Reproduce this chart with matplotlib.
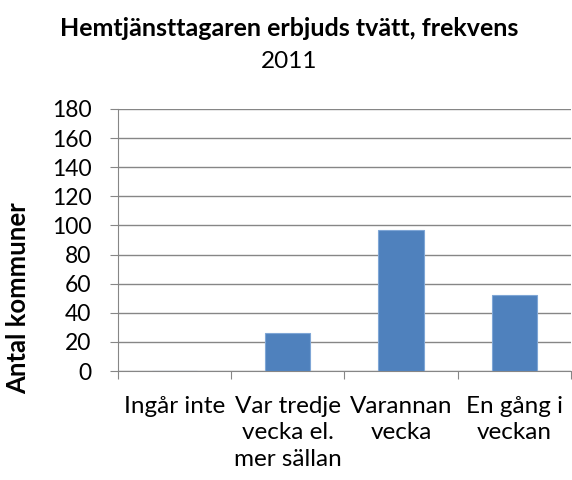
import matplotlib
matplotlib.use("Agg")
import matplotlib.pyplot as plt

categories = ["Ingår inte", "Var tredje\nvecka el.\nmer sällan", "Varannan\nvecka", "En gång i\nveckan"]
values = [0, 26, 97, 52]
yticks = [0, 20, 40, 60, 80, 100, 120, 140, 160, 180]

plt.rcParams['font.family'] = ['Lato', 'DejaVu Sans']

fig = plt.figure(figsize=(5.72, 4.8), dpi=100)
ax = fig.add_axes([0.206, 0.227, 0.792, 0.546])

x = list(range(len(categories)))
ax.bar(x, values, width=0.4, color="#4F81BD", edgecolor="#7FA6D6", linewidth=0.8, zorder=3)

ax.set_xlim(-0.5, len(categories) - 0.5)
ax.set_ylim(0, 180)
ax.set_yticks(yticks)
ax.set_yticklabels([str(v) for v in yticks], fontsize=16.5)
ax.yaxis.grid(True, color="#868686", linewidth=1.0, zorder=0)
ax.tick_params(axis="y", length=6, color="#868686", pad=13, direction="out")

# category ticks sit between the bars, labels under the bars
ax.set_xticks([i - 0.5 for i in range(len(categories) + 1)])
ax.set_xticklabels([])
ax.set_xticks(x, minor=True)
ax.set_xticklabels(categories, minor=True, fontsize=17.5, linespacing=1.32, va="top")
ax.tick_params(axis="x", which="major", length=6, color="#868686", direction="out")
ax.tick_params(axis="x", which="minor", length=0, pad=18)

for side in ["top", "right"]:
    ax.spines[side].set_visible(False)
ax.spines["left"].set_color("#868686")
ax.spines["bottom"].set_color("#868686")

fig.text(18 / 572, 1 - 298 / 480, "Antal kommuner", rotation=90, ha="center", va="center",
         fontsize=18.5, fontweight="bold")

fig.text(0.505, 1 - 29 / 480, "Hemtjänsttagaren erbjuds tvätt, frekvens", ha="center", va="center",
         fontsize=18, fontweight="bold")
fig.text(0.505, 1 - 62 / 480, "2011", ha="center", va="center", fontsize=17.5)

fig.savefig("out.png", dpi=100)
